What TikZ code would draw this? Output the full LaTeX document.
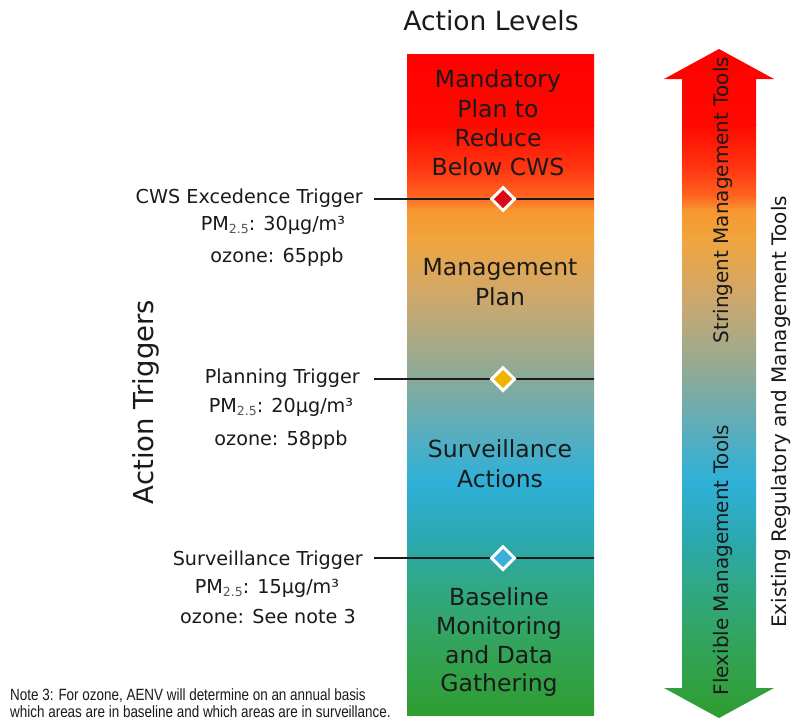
\documentclass[tikz,border=0pt]{standalone}
\usepackage{fontspec}
\setmainfont{DejaVu Sans}
\newfontfamily\notefont[FakeStretch=0.825]{Liberation Sans}
\usetikzlibrary{shapes.geometric}
\definecolor{txt}{HTML}{1A1A1A}
\definecolor{subg}{HTML}{555555}
\definecolor{s1}{HTML}{FF0000}
\definecolor{s2}{HTML}{FF0800}
\definecolor{s3}{HTML}{FF3812}
\definecolor{s4}{HTML}{FF6420}
\definecolor{s5}{HTML}{F7972E}
\definecolor{s6}{HTML}{F0A540}
\definecolor{s7}{HTML}{CDA86E}
\definecolor{s8}{HTML}{8AAA9A}
\definecolor{s9}{HTML}{52AEC2}
\definecolor{s10}{HTML}{2EB0D8}
\definecolor{s11}{HTML}{2CA8AE}
\definecolor{s12}{HTML}{30A886}
\definecolor{s13}{HTML}{33A45E}
\definecolor{s14}{HTML}{2E9C2C}
\definecolor{dred}{HTML}{DD0A14}
\definecolor{dyel}{HTML}{F0B400}
\definecolor{dblu}{HTML}{3AB0DA}
\newcommand\gradstrip[2]{%
  \foreach \ya/\ca/\yb/\cb in {40/s1/125/s2,125/s2/170/s3,170/s3/196/s4,196/s4/210/s5,210/s5/240/s6,240/s6/300/s7,300/s7/378/s8,378/s8/440/s9,440/s9/482/s10,482/s10/540/s11,540/s11/585/s12,585/s12/640/s13,640/s13/722/s14}{%
    \shade[top color=\ca,bottom color=\cb] (#1,\ya-0.4) rectangle (#2,\yb+0.4);}%
}
\begin{document}
\begin{tikzpicture}[x=1pt,y=-1pt,
  trig/.style={text=txt,font=\fontsize{19.2}{21}\selectfont,inner sep=0pt},
  lvl/.style={text=txt,font=\fontsize{23.5}{29.4}\selectfont,inner sep=0pt,anchor=base,align=center},
  side/.style={text=txt,font=\fontsize{20}{22}\selectfont,inner sep=0pt,anchor=base,rotate=90},
  trigline/.style={draw=txt,line width=1.3pt},
  diam/.style={shape=diamond,draw=white,line width=3pt,minimum width=24pt,minimum height=24pt,inner sep=0pt}]
\useasboundingbox (0,0) rectangle (792,721);
\fill[white] (0,0) rectangle (792,721);

% level bar
\begin{scope}
  \clip (407,54) rectangle (594,715);
  \gradstrip{405}{596}
\end{scope}

% double arrow
\begin{scope}
  \clip (719,49) -- (774,79) -- (756,79) -- (756,688) -- (774,688) -- (719,718)
        -- (664,688) -- (682,688) -- (682,79) -- (664,79) -- cycle;
  \gradstrip{660}{778}
\end{scope}

% titles
\node[text=txt,font=\fontsize{26.5}{28}\selectfont,inner sep=0pt,anchor=base] (title) at (491,30) {Action Levels};
\node[text=txt,font=\fontsize{27.5}{28}\selectfont,inner sep=0pt,anchor=base,rotate=90] (trigtitle) at (153,402) {Action Triggers};

% level texts
\node[lvl] (l1a) at (498,87) {Mandatory};
\node[lvl] (l1b) at (498,117) {Plan to};
\node[lvl] (l1c) at (498,146) {Reduce};
\node[lvl] (l1d) at (498,175) {Below CWS};
\node[lvl] (l2a) at (500,275) {Management};
\node[lvl] (l2b) at (500,305) {Plan};
\node[lvl] (l3a) at (500,457) {Surveillance};
\node[lvl] (l3b) at (500,487) {Actions};
\node[lvl] (l4a) at (499,605) {Baseline};
\node[lvl] (l4b) at (499,634) {Monitoring};
\node[lvl] (l4c) at (499,663) {and Data};
\node[lvl] (l4d) at (499,691) {Gathering};

% trigger lines
\coordinate (a1) at (374,199); \coordinate (b1) at (594,199);
\coordinate (a2) at (374,379); \coordinate (b2) at (594,379);
\coordinate (a3) at (374,558); \coordinate (b3) at (594,558);
\draw[trigline] (a1) -- (b1);
\draw[trigline] (a2) -- (b2);
\draw[trigline] (a3) -- (b3);
\node[diam,fill=dred] (dm1) at (503,199) {};
\node[diam,fill=dyel] (dm2) at (503,379) {};
\node[diam,fill=dblu] (dm3) at (503,558) {};

% trigger texts
\newcommand\pmsub{PM{\fontsize{12.5}{12}\selectfont\color{subg}\raisebox{-3pt}{2.5}}}
\node[trig,anchor=base east] (t1) at (363,203) {CWS Excedence Trigger};
\node[trig,anchor=base] (p1) at (273,230) {\pmsub: 30µg/m³};
\node[trig,anchor=base] (o1) at (277,262) {ozone: 65ppb};
\node[trig,anchor=base east] (t2) at (360,383) {Planning Trigger};
\node[trig,anchor=base] (p2) at (281,412) {\pmsub: 20µg/m³};
\node[trig,anchor=base] (o2) at (281,445) {ozone: 58ppb};
\node[trig,anchor=base east] (t3) at (363,565) {Surveillance Trigger};
\node[trig,anchor=base] (p3) at (267,593) {\pmsub: 15µg/m³};
\node[trig,anchor=base] (o3) at (268,623) {ozone: See note 3};

% side labels
\node[side] (strg) at (728,200) {Stringent Management Tools};
\node[side] (flex) at (728,560) {Flexible Management Tools};
\node[side] (exist) at (786,412) {Existing Regulatory and Management Tools};

% note
\node[text=txt,font=\notefont\fontsize{16.3}{17}\selectfont,inner sep=0pt,anchor=base west] (n1) at (10,700) {Note 3: For ozone, AENV will determine on an annual basis};
\node[text=txt,font=\notefont\fontsize{16.3}{17}\selectfont,inner sep=0pt,anchor=base west] (n2) at (10,717) {which areas are in baseline and which areas are in surveillance.};
\end{tikzpicture}
\end{document}
